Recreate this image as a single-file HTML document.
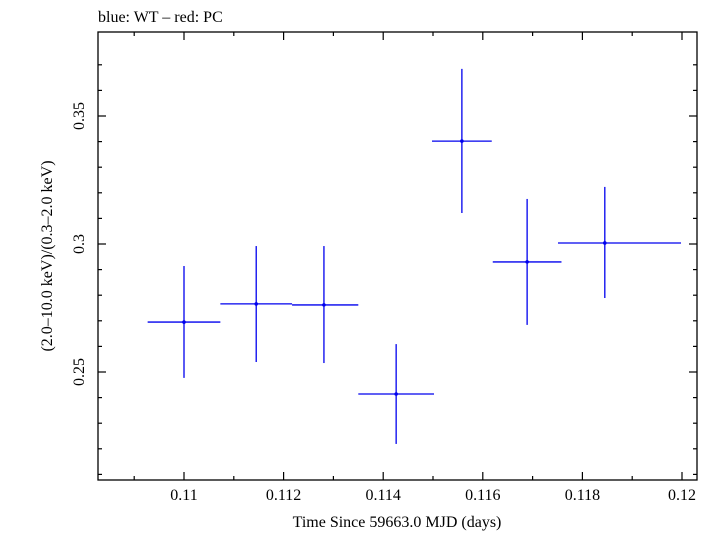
<!DOCTYPE html>
<html><head><meta charset="utf-8"><style>
body{margin:0;background:#fff;}
svg text{font-family:"Liberation Serif",serif;fill:#000;}
</style></head><body>
<svg width="715" height="532">
<text x="98" y="22" font-size="16">blue: WT – red: PC</text>
<rect x="98" y="32" width="599" height="448" fill="none" stroke="#000" stroke-width="1.3"/>
<g id="ticks"></g>
<g id="marks"></g>
<text x="397" y="527" font-size="16" text-anchor="middle">Time Since 59663.0 MJD (days)</text>
<text transform="translate(52,256) rotate(-90)" font-size="16" text-anchor="middle">(2.0–10.0 keV)/(0.3–2.0 keV)</text>
</svg>
<script>
const xVals=[0.11,0.11145,0.11281,0.11426,0.11558,0.11689,0.11845];
const xLo=[0.10927,0.11073,0.11217,0.1135,0.11498,0.1162,0.11751];
const xHi=[0.11073,0.11217,0.1135,0.11502,0.11618,0.11758,0.11998];
const yVals=[0.2695,0.2766,0.2762,0.2414,0.3402,0.293,0.3004];
const yHi=[0.2914,0.2992,0.2992,0.2609,0.3684,0.3176,0.3223];
const yLo=[0.2477,0.2539,0.2535,0.2219,0.3121,0.2684,0.2789];
const xTicks=[0.11,0.112,0.114,0.116,0.118,0.12];
const xTickLabels=["0.11","0.112","0.114","0.116","0.118","0.12"];
const yTicks=[0.25,0.3,0.35];
const yTickLabels=["0.25","0.3","0.35"];
const L=98,R=697,T=32,B=480;
const X=v=>184+(v-0.11)*49800;
const Y=v=>244-(v-0.3)*2560;
const NS="http://www.w3.org/2000/svg";
function mk(p,tag,a){const e=document.createElementNS(NS,tag);for(const k in a)e.setAttribute(k,a[k]);p.appendChild(e);return e;}
const tg=document.getElementById('ticks');
function ln(x1,y1,x2,y2,name){const e=mk(tg,'line',{x1,y1,x2,y2,stroke:'#000','stroke-width':1.2});

}
for(let v=0.109;v<=0.1205;v+=0.001){const x=X(v);if(x<L||x>R)continue;
const major=Math.abs(Math.round(v*1000)%2)===0;const len=major?8:4;
ln(x,B,x,B-len,'x-tick');ln(x,T,x,T+len,'x-tick-top');}
for(let v=0.21;v<=0.38;v+=0.01){const y=Y(v);if(y<T||y>B)continue;
const major=Math.abs(Math.round(v*100)%5)===0;const len=major?8:4;
ln(L,y,L+len,y,'y-tick');ln(R,y,R-len,y,'y-tick-right');}
xTicks.forEach((v,i)=>{const t=mk(tg,'text',{x:X(v),y:B+20,'font-size':16,'text-anchor':'middle'});t.textContent=xTickLabels[i];

});
yTicks.forEach((v,i)=>{const t=mk(tg,'text',{transform:`translate(${L-14},${Y(v)}) rotate(-90)`,'font-size':16,'text-anchor':'middle'});t.textContent=yTickLabels[i];

});
const mg=document.getElementById('marks');
xVals.forEach((xv,i)=>{const g=mk(mg,'g',{stroke:'#0000ee','stroke-width':1.3});


mk(g,'line',{x1:X(xLo[i]),x2:X(xHi[i]),y1:Y(yVals[i]),y2:Y(yVals[i])});
mk(g,'line',{x1:X(xv),x2:X(xv),y1:Y(yHi[i]),y2:Y(yLo[i])});
mk(g,'circle',{cx:X(xv),cy:Y(yVals[i]),r:1.8,fill:'#0000ee',stroke:'none'});});
</script>
</body></html>
